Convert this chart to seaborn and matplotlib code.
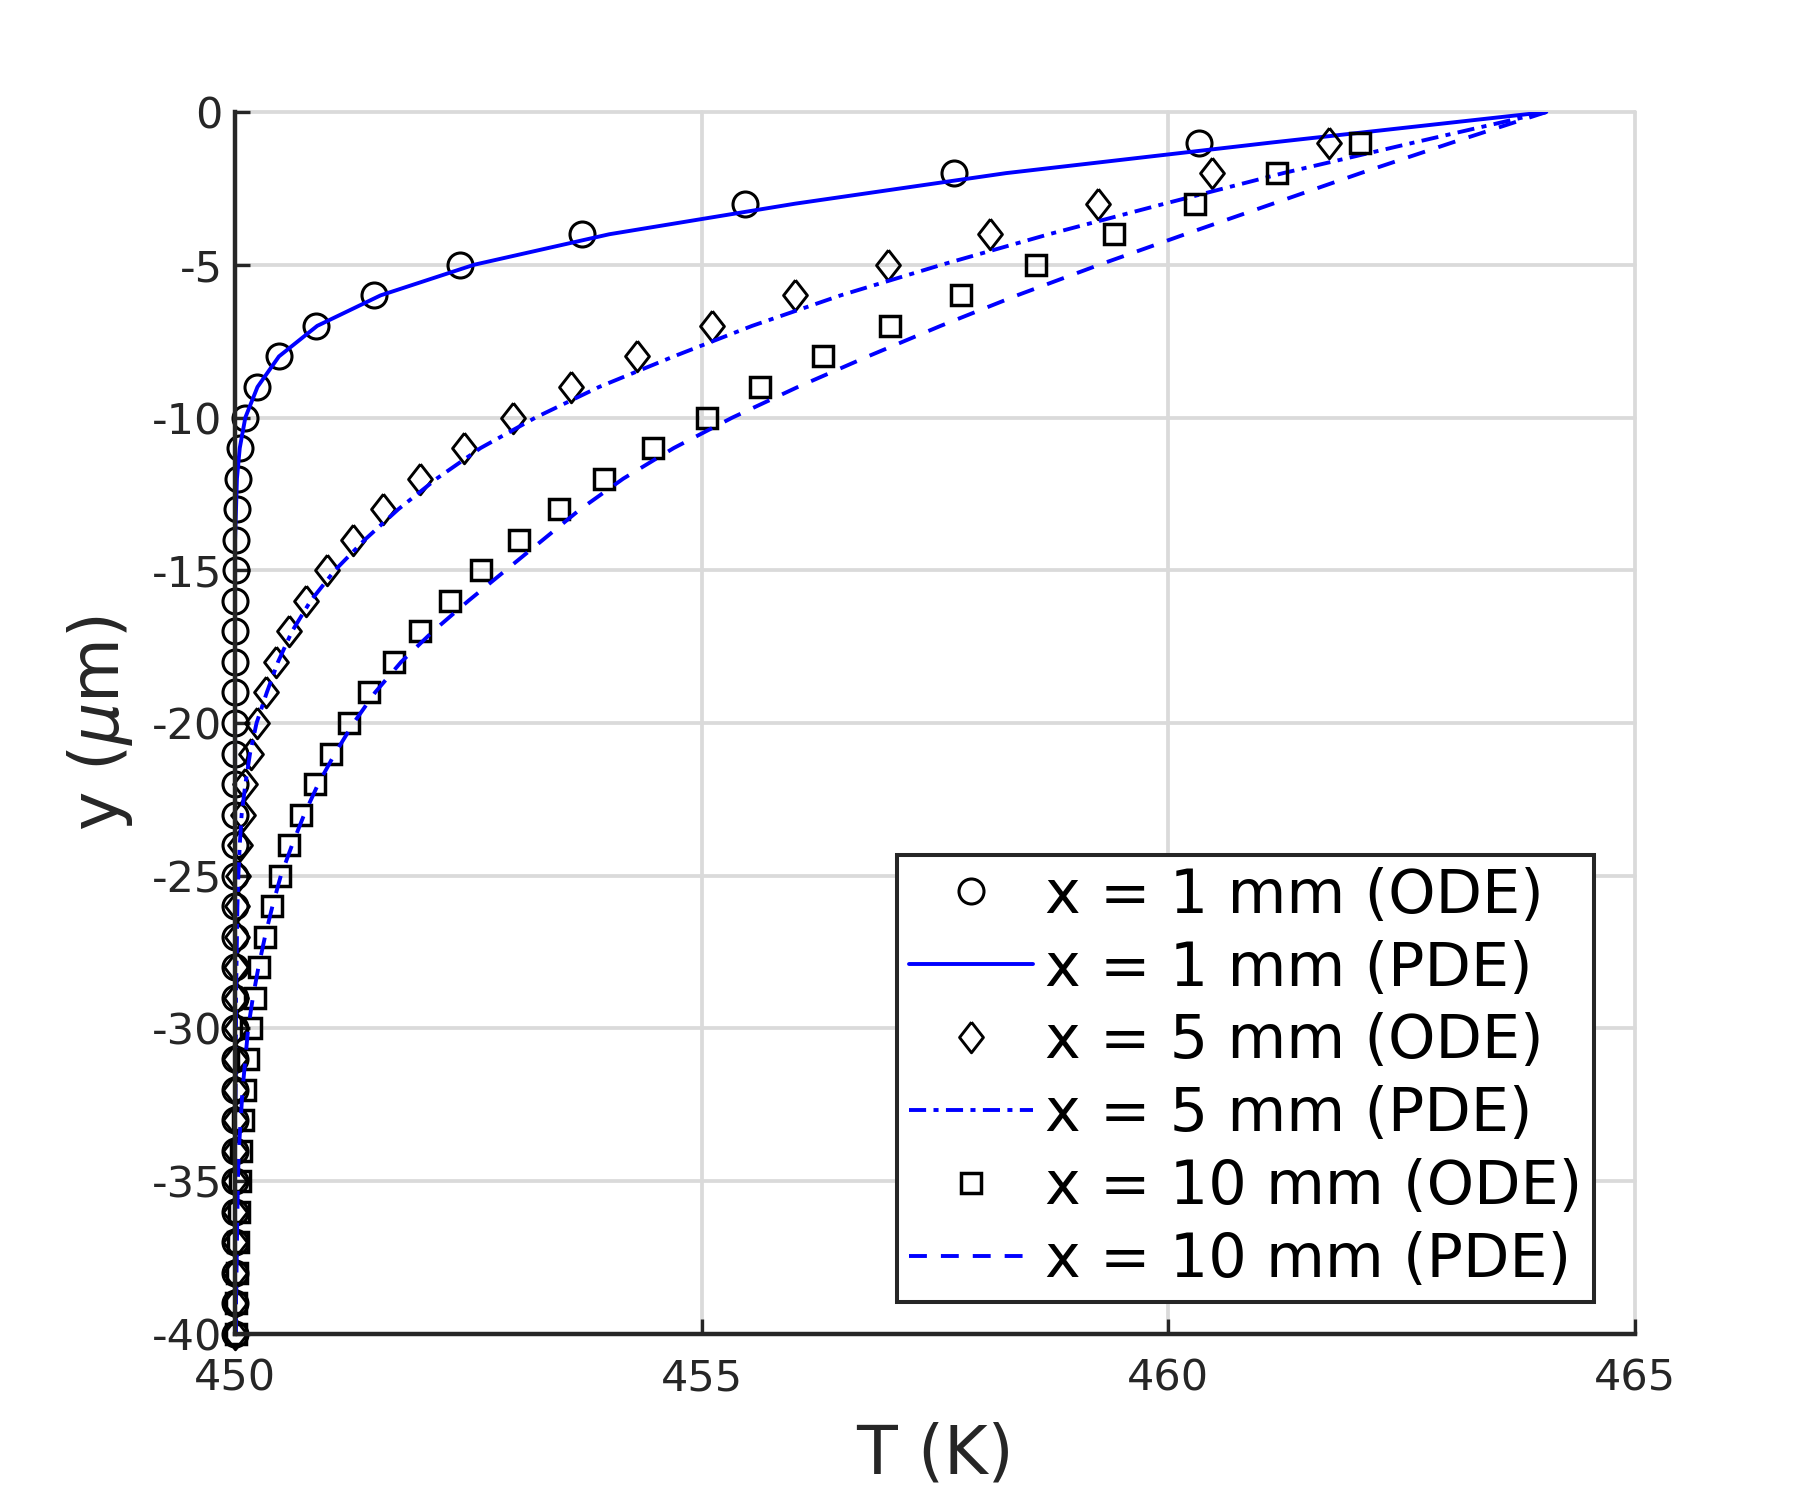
import matplotlib
matplotlib.use("Agg")
import matplotlib.pyplot as plt
import seaborn as sns

# depth below the surface (um); ODE points are at -1 ... -40, PDE curves 0 ... -40
depth = [0, -1, -2, -3, -4, -5, -6, -7, -8, -9, -10, -11, -12, -13, -14, -15, -16, -17, -18, -19, -20,
         -21, -22, -23, -24, -25, -26, -27, -28, -29, -30, -31, -32, -33, -34, -35, -36, -37, -38, -39, -40]
depth_ode = depth[1:]

# temperatures (K)
T_ode_1mm = [460.33, 457.70, 455.46, 453.72, 452.41, 451.49, 450.87, 450.47, 450.23, 450.11,
             450.05, 450.03, 450.02, 450.01, 450.01, 450.0, 450.0, 450.0, 450.0, 450.0,
             450.0, 450.0, 450.0, 450.0, 450.0, 450.0, 450.0, 450.0, 450.0, 450.0,
             450.0, 450.0, 450.0, 450.0, 450.0, 450.0, 450.0, 450.0, 450.0, 450.0]
T_pde_1mm = [464.05, 461.10, 458.26, 456.00, 454.01, 452.56, 451.56, 450.88, 450.47, 450.24,
             450.11, 450.05, 450.02, 450.01, 450.0, 450.0, 450.0, 450.0, 450.0, 450.0,
             450.0, 450.0, 450.0, 450.0, 450.0, 450.0, 450.0, 450.0, 450.0, 450.0,
             450.0, 450.0, 450.0, 450.0, 450.0, 450.0, 450.0, 450.0, 450.0, 450.0, 450.0]

T_ode_5mm = [461.72, 460.47, 459.25, 458.09, 457.00, 456.00, 455.11, 454.31, 453.60, 452.98,
             452.45, 451.98, 451.58, 451.26, 450.98, 450.76, 450.58, 450.44, 450.33, 450.24,
             450.17, 450.11, 450.08, 450.05, 450.03, 450.02, 450.02, 450.01, 450.01, 450.01,
             450.0, 450.0, 450.0, 450.0, 450.0, 450.0, 450.0, 450.0, 450.0, 450.0]
T_pde_5mm = [464.05, 462.63, 461.23, 459.96, 458.72, 457.57, 456.49, 455.54, 454.70, 453.90,
             453.22, 452.63, 452.16, 451.75, 451.39, 451.07, 450.81, 450.61, 450.46, 450.34,
             450.23, 450.16, 450.11, 450.07, 450.05, 450.035, 450.025, 450.02, 450.015, 450.01,
             450.01, 450.005, 450.005, 450.0, 450.0, 450.0, 450.0, 450.0, 450.0, 450.0, 450.0]

T_ode_10mm = [462.05, 461.16, 460.29, 459.42, 458.58, 457.78, 457.02, 456.30, 455.63, 455.06,
              454.48, 453.95, 453.47, 453.04, 452.64, 452.30, 451.98, 451.70, 451.44, 451.22,
              451.03, 450.86, 450.71, 450.58, 450.48, 450.40, 450.32, 450.26, 450.21, 450.17,
              450.14, 450.11, 450.09, 450.06, 450.05, 450.04, 450.03, 450.02, 450.01, 450.01]
T_pde_10mm = [464.05, 463.04, 462.06, 461.12, 460.18, 459.26, 458.38, 457.56, 456.78, 456.03,
              455.33, 454.70, 454.16, 453.70, 453.30, 452.90, 452.50, 452.12, 451.78, 451.50,
              451.27, 451.07, 450.89, 450.74, 450.61, 450.49, 450.40, 450.32, 450.25, 450.19,
              450.14, 450.11, 450.08, 450.06, 450.04, 450.03, 450.025, 450.02, 450.015, 450.01, 450.01]

labels = ["x = 1 mm (ODE)", "x = 1 mm (PDE)", "x = 5 mm (ODE)",
          "x = 5 mm (PDE)", "x = 10 mm (ODE)", "x = 10 mm (PDE)"]

x_ticks = [450, 455, 460, 465]
x_ticklabels = ["450", "455", "460", "465"]
y_ticks = [0, -5, -10, -15, -20, -25, -30, -35, -40]
y_ticklabels = ["0", "-5", "-10", "-15", "-20", "-25", "-30", "-35", "-40"]

sns.set_theme(style="white")
plt.rcParams["font.family"] = ["DejaVu Sans"]
plt.rcParams["mathtext.fontset"] = "dejavusans"

dark = "#262626"
fig, ax = plt.subplots(figsize=(18, 15), dpi=100)
fig.subplots_adjust(left=0.1306, right=0.9083, bottom=0.1107, top=0.9253)

diamond = [(0, 1), (0.78, 0), (0, -1), (-0.78, 0), (0, 1)]
ode = dict(linestyle="none", markerfacecolor="none", markeredgecolor="black",
           clip_on=False, sort=False, estimator=None, ax=ax)
pde = dict(color=(0, 0, 1), linewidth=2.8, sort=False, estimator=None, ax=ax)

sns.lineplot(x=T_ode_1mm, y=depth_ode, marker="o", markersize=18, markeredgewidth=2.2,
             label=labels[0], **ode)
sns.lineplot(x=T_pde_1mm, y=depth, linestyle="-", label=labels[1], **pde)
sns.lineplot(x=T_ode_5mm, y=depth_ode, marker=diamond, markersize=22, markeredgewidth=2.1,
             label=labels[2], **ode)
sns.lineplot(x=T_pde_5mm, y=depth, dashes=(4.4, 1.9, 1.3, 1.9), label=labels[3], **pde)
sns.lineplot(x=T_ode_10mm, y=depth_ode, marker="s", markersize=14, markeredgewidth=2.5,
             label=labels[4], **ode)
sns.lineplot(x=T_pde_10mm, y=depth, dashes=(4.6, 3.6), label=labels[5], **pde)

ax.set_xlim(450, 465)
ax.set_ylim(-40, 0)
ax.set_xticks(x_ticks)
ax.set_xticklabels(x_ticklabels)
ax.set_yticks(y_ticks)
ax.set_yticklabels(y_ticklabels)

ax.grid(True, color="#dadada", linewidth=2.7)
ax.set_axisbelow(True)
for gl in ax.get_xgridlines() + ax.get_ygridlines():
    gl.set_clip_on(False)

for side in ["top", "right"]:
    ax.spines[side].set_visible(False)
for side in ["left", "bottom"]:
    ax.spines[side].set_color(dark)
    ax.spines[side].set_linewidth(3.2)

ax.tick_params(direction="in", length=10.5, width=2.4, color=dark, labelsize=31,
               labelcolor=dark, top=False, right=False, left=True, bottom=True)
ax.tick_params(axis="x", pad=17)
ax.tick_params(axis="y", pad=9)

ax.set_xlabel("T (K)", fontsize=48, color=dark, labelpad=16)
ax.set_ylabel(r"y ($\mu$m)", fontsize=48, color=dark, labelpad=12)

handles, labs = ax.get_legend_handles_labels()
leg = ax.legend(handles, labs, loc="lower right", bbox_to_anchor=(0.971, 0.026),
                borderaxespad=0, fontsize=43.5, frameon=True, fancybox=False,
                edgecolor=dark, framealpha=1, handlelength=2.05, handletextpad=0.2,
                borderpad=0.2, labelspacing=0.23, numpoints=1, labelcolor="black")
leg.get_frame().set_linewidth(2.9)

fig.savefig("out.png", dpi=100, facecolor="white")
